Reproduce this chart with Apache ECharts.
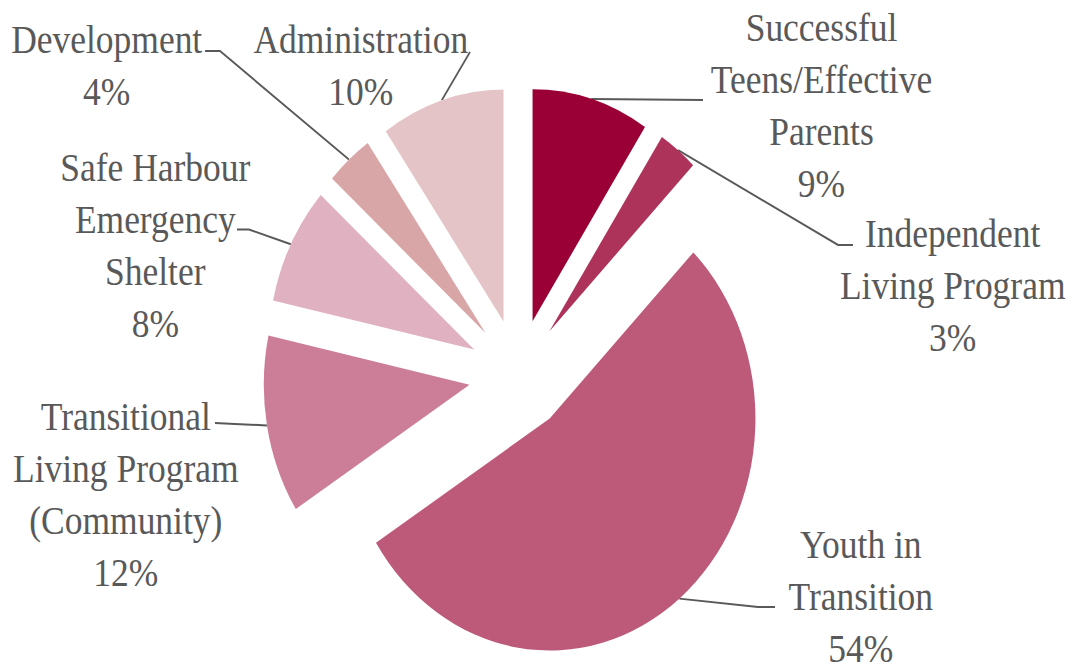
<!DOCTYPE html>
<html>
<head>
<meta charset="utf-8">
<script src="https://cdn.jsdelivr.net/npm/echarts@6/dist/echarts.min.js"></script>
<style>
  html, body { margin: 0; padding: 0; background: #ffffff; overflow: hidden; }
  #wrap { width: 1073px; height: 669px; overflow: hidden; }
  #chart { width: 1210px; height: 669px; transform: scaleX(0.886777); transform-origin: 0 0; }
</style>
</head>
<body>
<div id="wrap"><div id="chart"></div></div>
<script>
// ---- data ----
const categories = [
  'Successful\nTeens/Effective\nParents',
  'Independent\nLiving Program',
  'Youth in\nTransition',
  'Transitional\nLiving Program\n(Community)',
  'Safe Harbour\nEmergency\nShelter',
  'Development',
  'Administration'
];
const values = [9.2, 3.1, 53.7, 12.4, 8.2, 3.7, 9.7];
const colors = ['#9A0036', '#AD335A', '#BD5A7A', '#CC7E98', '#E0B1C1', '#D9A6A8', '#E4C4C6'];

// ---- layout (final picture coordinates) ----
const SX = 1073 / 1210;             // horizontal squeeze of the reference
const labelPos = [[821.5, 105], [952.7, 285], [860.8, 596], [125.8, 494], [155.3, 245], [106.7, 65.3], [360.8, 65.3]];
const guidePts = [
  [[703, 100], [703, 100]],
  [[838, 245], [853, 245]],
  [[758, 607], [775, 607]],
  [[235, 424], [215, 423]],
  [[249, 229.5], [237, 229.5]],
  [[220, 51], [205, 51]],
  [[470, 52], [470, 52]]
];
const OFFSET = 56;
const CENTER = [584.6, 375];
const RADIUS = 232;
const FONT = '"Liberation Serif", "DejaVu Serif", serif';

const chart = echarts.init(document.getElementById('chart'), null, { renderer: 'svg' });

chart.setOption({
  backgroundColor: '#ffffff',
  animation: false,
  series: [
    {
      // visible exploded slices
      type: 'pie',
      center: CENTER,
      radius: RADIUS,
      startAngle: 90,
      clockwise: true,
      selectedMode: 'multiple',
      selectedOffset: OFFSET,
      emphasis: { scale: false },
      label: { show: false },
      labelLine: { show: false },
      data: categories.map((n, i) => ({
        name: n, value: values[i], selected: true,
        itemStyle: { color: colors[i] }
      }))
    },
    {
      // same slices, transparent, carrying the labels and leader lines
      type: 'pie',
      center: CENTER,
      radius: RADIUS,
      startAngle: 90,
      clockwise: true,
      silent: true,
      selectedMode: false,
      percentPrecision: 0,
      avoidLabelOverlap: false,
      emphasis: { disabled: true },
      itemStyle: { color: 'rgba(0,0,0,0)' },
      data: categories.map((n, i) => ({ name: n, value: values[i] })),
      label: {
        show: true,
        position: 'outside',
        formatter: '{b}\n{d}%',
        fontFamily: FONT,
        fontSize: 40,
        lineHeight: 52,
        color: '#595959',
        align: 'center'
      },
      labelLine: {
        show: true,
        length: 10,
        length2: 10,
        smooth: false,
        lineStyle: { color: '#595959', width: 2, opacity: 1 }
      },
      labelLayout: function (p) {
        const i = p.dataIndex;
        const out = {
          x: labelPos[i][0] / SX,
          y: labelPos[i][1],
          align: 'center',
          verticalAlign: 'middle'
        };
        const lp = p.labelLinePoints;
        if (lp && lp.length >= 2) {
          const p0 = lp[0], p1 = lp[1];
          const dx = p1[0] - p0[0], dy = p1[1] - p0[1];
          const len = Math.sqrt(dx * dx + dy * dy) || 1;
          const pts = [[p0[0] + OFFSET * dx / len, p0[1] + OFFSET * dy / len]];
          guidePts[i].forEach(function (q) { pts.push([q[0] / SX, q[1]]); });
          out.labelLinePoints = pts;
        }
        return out;
      }
    }
  ]
});
</script>
</body>
</html>
